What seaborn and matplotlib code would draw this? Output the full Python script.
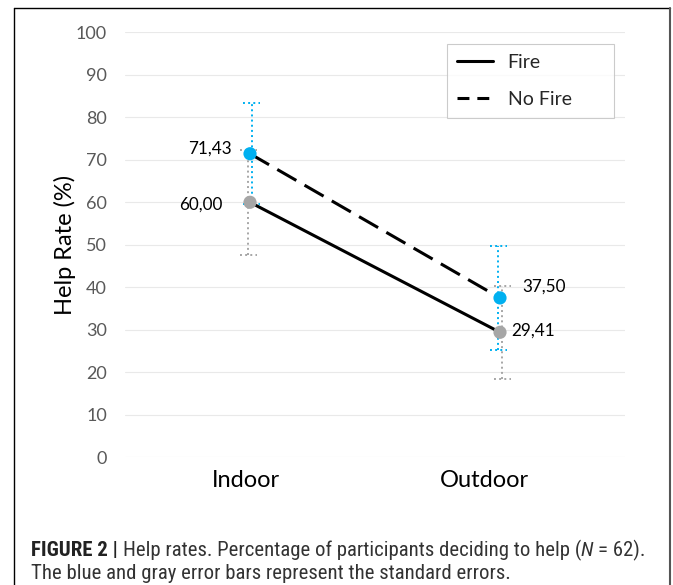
import numpy as np
import pandas as pd
import seaborn as sns
import matplotlib.pyplot as plt
from matplotlib import transforms, font_manager
from matplotlib.lines import Line2D

#%% data
locations = ['Indoor', 'Outdoor']
conditions = ['Fire', 'No Fire']
fire_rate = [60.00, 29.41]
nofire_rate = [71.43, 37.50]
fire_se = [12.4, 11.0]
nofire_se = [11.9, 12.3]

df = pd.DataFrame({
    'location': locations * 2,
    'condition': ['Fire'] * 2 + ['No Fire'] * 2,
    'rate': fire_rate + nofire_rate,
    'se': fire_se + nofire_se,
})

#%% style
sns.set_theme(style='white')
plt.rcParams['font.family'] = ['Lato', 'DejaVu Sans']
blue = '#00b0f0'
gray = '#a6a6a6'
colors = {'Fire': gray, 'No Fire': blue}

fig = plt.figure(figsize=(6.73, 5.85), dpi=100)
ax = fig.add_axes([125 / 673, 1 - 457.3 / 585, 500 / 673, 425 / 585])

#%% lines
sns.lineplot(data=df, x='location', y='rate', style='condition', style_order=conditions,
             dashes={'Fire': '', 'No Fire': (7.2, 3.1)}, color='black', lw=2.2,
             sort=False, ax=ax, zorder=2)

#%% dotted error bars (small pixel shifts so the two bars sit side by side)
shift_px = {('Fire', 'Indoor'): -2, ('Fire', 'Outdoor'): 2,
            ('No Fire', 'Indoor'): 1.5, ('No Fire', 'Outdoor'): -2}
cap = 0.034
for _, r in df.iterrows():
    pos = locations.index(r['location'])
    tr = transforms.offset_copy(ax.transData, fig=fig, x=shift_px[(r['condition'], r['location'])],
                                y=0, units='dots')
    c = colors[r['condition']]
    ax.vlines(pos, r['rate'] - r['se'], r['rate'] + r['se'], colors=c, linestyles=':',
              lw=1.4, transform=tr, zorder=3)
    ax.hlines([r['rate'] - r['se'], r['rate'] + r['se']], pos - cap, pos + cap, colors=c,
              linestyles=':', lw=1.4, transform=tr, zorder=3)

#%% markers
sns.scatterplot(data=df, x='location', y='rate', hue='condition', palette=colors, s=90,
                edgecolor='none', legend=False, ax=ax, zorder=5)

#%% value labels
label_off = {('Fire', 'Indoor'): (-20, -2, 'right'), ('Fire', 'Outdoor'): (8, 1, 'left'),
             ('No Fire', 'Indoor'): (-13, 3.4, 'right'), ('No Fire', 'Outdoor'): (16, 8, 'left')}
for _, r in df.iterrows():
    pos = locations.index(r['location'])
    dx, dy, ha = label_off[(r['condition'], r['location'])]
    ax.annotate(f"{r['rate']:.2f}".replace('.', ','), xy=(pos, r['rate']), xytext=(dx, dy),
                textcoords='offset points', ha=ha, va='center', fontsize=12.3, color='black')

#%% axes
ax.set_xlim(-0.5, 1.5)
ax.set_ylim(0, 100)
ax.set_yticks(np.arange(0, 101, 10))
ax.yaxis.grid(True, color='#e9e9e9', lw=0.8)
ax.xaxis.grid(False)
for s in ax.spines.values():
    s.set_visible(False)
ax.tick_params(axis='y', length=0, pad=13, labelsize=13, labelcolor='#595959')
ax.tick_params(axis='x', length=0, pad=9, labelsize=17, labelcolor='black')
ax.set_xticks([0, 1])
ax.set_xticklabels(locations)
for lab, dx in zip(ax.get_xticklabels(), [-4, -16]):
    lab.set_transform(lab.get_transform() + transforms.ScaledTranslation(dx / 100, 0, fig.dpi_scale_trans))
ax.set_xlabel('')
ax.set_ylabel('Help Rate (%)', fontsize=17, color='black', labelpad=0)

#%% legend
handles, labels = ax.get_legend_handles_labels()
leg = ax.legend(handles, labels, loc='upper left',
                bbox_to_anchor=(447 / 673, 1 - 115 / 585, 167 / 673, 71 / 585),
                bbox_transform=fig.transFigure, mode='expand', borderaxespad=0,
                frameon=True, fancybox=False, edgecolor='#bfbfbf', fontsize=14,
                handlelength=1.85, handletextpad=0.77, labelspacing=1.05, borderpad=0.5)
leg.get_frame().set_linewidth(0.8)
for h in leg.get_lines():
    h.set_color('black')
    h.set_linewidth(2.2)
leg.get_lines()[1].set_linestyle((0, (3.9, 2.6)))

#%% page frame
fig.add_artist(Line2D([14 / 673, 14 / 673], [0, 1 - 8 / 585], transform=fig.transFigure, color='black', lw=1))
fig.add_artist(Line2D([14 / 673, 670 / 673], [1 - 8 / 585, 1 - 8 / 585], transform=fig.transFigure, color='black', lw=1))
fig.add_artist(Line2D([670 / 673, 670 / 673], [0, 1 - 8 / 585], transform=fig.transFigure, color='#555555', lw=1.5))

#%% caption (narrow sans if there is one)
names = {f.name for f in font_manager.fontManager.ttflist}
cap_font = 'Liberation Sans'
for cand in ['Liberation Sans Narrow', 'Roboto Condensed', 'Arial Narrow', 'Open Sans Condensed',
             'Noto Sans Condensed']:
    if cand in names:
        cap_font = cand
        break
renderer = fig.canvas.get_renderer()
W = fig.bbox.width


def width_of(s, size, weight='normal', style='normal'):
    t = fig.text(0, 0, s, family=cap_font, fontsize=size, weight=weight, style=style)
    w = t.get_window_extent(renderer).width
    t.remove()
    return w


reg = {'color': '#333333'}
line1 = [('FIGURE 2 | ', {'weight': 'bold', 'color': '#222222'}),
         ('Help rates. Percentage of participants deciding to help (', reg),
         ('N', {'style': 'italic', 'color': '#333333'}),
         (' = 62).', reg)]
base = 13
w_test = sum(width_of(s.strip(), base, weight=kw.get('weight', 'normal'), style=kw.get('style', 'normal'))
             for s, kw in line1) + 2 * (width_of('x x', base) - width_of('xx', base))
size = base * 611 / w_test


def place(pieces, y):
    x = 31
    sp = width_of('x x', size) - width_of('xx', size)
    for s, kw in pieces:
        if s.startswith(' '):
            x += sp
        t = fig.text(x / W, y, s.strip(), family=cap_font, fontsize=size, va='baseline', **kw)
        x += t.get_window_extent(renderer).width
        if s.endswith(' '):
            x += sp


place(line1, 1 - 556 / 585)
place([('The blue and gray error bars represent the standard errors.', reg)], 1 - 579 / 585)

fig.savefig('out.png', dpi=100)
